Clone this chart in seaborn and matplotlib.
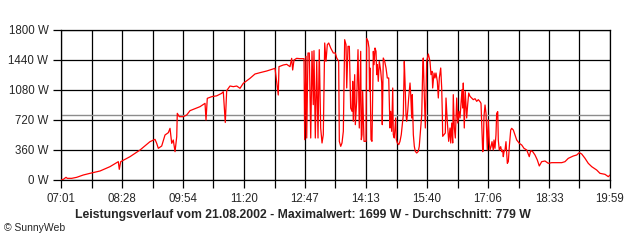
import matplotlib
matplotlib.use("Agg")
import matplotlib.pyplot as plt
import seaborn as sns
import numpy as np
import pandas as pd

# minutes after 07:01
minutes = [0, 3.3, 7.1, 8.9, 15.2, 22.2, 31.6, 41.1, 55.3, 69.4, 81.2, 82.6, 84.6, 97.8, 112.0,
           126.1, 133.2, 135.6, 137.9, 142.7, 147.4, 152.1, 154.5, 156.9, 159.1, 161.6, 164.0,
           164.8, 167.6, 173.3, 178.1, 182.8, 197.0, 204.1, 205.5, 207.3, 213.6, 220.6, 227.7,
           230.0, 232.8, 234.8, 239.5, 244.2, 249.0, 253.7, 258.3, 267.8, 274.9, 282.0, 291.5,
           303.3, 307.9, 308.9, 315.0, 319.8, 324.5, 326.9, 328.3, 330.2, 334.0, 338.7, 344.4,
           345.3, 347.2, 348.2, 350.0, 351.9, 353.9, 355.7, 357.5, 358.5, 360.4, 362.4, 364.2,
           366.0, 368.0, 369.9, 371.7, 373.7, 375.5, 377.4, 379.4, 382.2, 385.9, 388.7, 390.7,
           393.5, 394.4, 396.4, 398.2, 400.1, 402.0, 403.9, 404.9, 406.7, 408.6, 410.5, 412.4,
           413.4, 414.2, 416.2, 417.1, 419.0, 420.9, 422.7, 424.7, 425.6, 426.6, 427.5, 429.4,
           432.2, 433.2, 435.1, 436.5, 437.2, 437.9, 439.3, 440.7, 442.6, 443.6, 445.0, 446.4,
           447.4, 448.2, 449.6, 451.1, 453.1, 454.5, 455.3, 456.7, 458.7, 460.6, 462.4, 464.4,
           465.2, 466.2, 467.2, 468.6, 470.1, 470.9, 472.3, 474.3, 475.2, 476.6, 478.6, 480.4,
           482.2, 483.7, 485.1, 486.5, 487.5, 488.9, 489.9, 491.3, 492.7, 494.6, 495.6, 497.0,
           497.8, 499.3, 500.7, 502.1, 504.1, 506.3, 507.7, 511.2, 512.6, 513.4, 514.8, 516.3,
           518.2, 520.5, 522.9, 524.3, 525.8, 526.7, 528.6, 530.0, 531.4, 533.3, 534.7, 536.1,
           538.1, 539.5, 540.4, 540.9, 542.8, 544.6, 545.6, 547.4, 549.4, 551.3, 552.3, 553.7,
           555.1, 555.9, 557.4, 558.8, 560.8, 562.2, 564.0, 565.4, 566.8, 568.3, 569.2, 570.1,
           571.5, 572.9, 574.9, 576.3, 577.8, 579.6, 582.0, 584.3, 586.7, 589.1, 591.4, 593.8,
           595.2, 596.2, 597.6, 598.4, 599.4, 600.9, 602.3, 603.3, 604.1, 605.5, 607.0, 607.9,
           609.4, 610.8, 612.6, 613.6, 615.0, 616.4, 617.4, 618.9, 619.7, 621.1, 623.1, 624.5,
           625.9, 626.8, 627.8, 629.2, 630.6, 632.5, 633.9, 635.3, 637.3, 638.7, 641.0, 643.4,
           645.8, 649.5, 652.9, 656.1, 660.0, 663.6, 665.6, 668.5, 671.7, 675.0, 677.8, 681.2,
           685.9, 690.6, 695.4, 702.5, 709.6, 714.2, 718.9, 726.0, 730.8, 734.5, 737.9, 742.6,
           747.2, 752.1, 759.1, 763.8, 770.9, 775.6, 778.0]

watts = [0, 8, 32, 20, 20, 32, 60, 80, 108, 160, 220, 128, 220, 280, 360,
         460, 488, 440, 380, 408, 540, 568, 620, 440, 480, 340, 520,
         800, 760, 760, 780, 832, 880, 920, 720, 980, 1000, 1010, 1040,
         1060, 690, 1072, 1128, 1120, 1128, 1100, 1160, 1220, 1272, 1288, 1308,
         1340, 1020, 1360, 1380, 1388, 1360, 1460, 1320, 1440, 1460, 1456, 1456,
         484, 1484, 504, 1524, 1524, 504, 1544, 904, 1552, 504, 1424, 504,
         1564, 624, 444, 544, 1644, 1424, 1624, 1644, 1584, 1524, 1524, 1464,
         1424, 464, 404, 444, 584, 1684, 1624, 1104, 1604, 1604, 864, 824,
         1184, 704, 1264, 664, 944, 1564, 624, 1544, 484, 544, 1064, 464,
         464, 1699, 1664, 1584, 1064, 1344, 484, 464, 1544, 1384, 1584, 1544,
         1264, 1384, 1184, 1424, 1304, 1164, 664, 1464, 1424, 1344, 1224, 1224,
         944, 624, 824, 584, 1104, 544, 504, 744, 484, 444, 424, 464,
         544, 664, 784, 1424, 1184, 784, 704, 824, 984, 1164, 1024, 744,
         1024, 544, 404, 344, 324, 344, 404, 784, 1344, 1464, 1024, 624,
         1424, 1512, 1424, 1264, 1304, 1104, 1284, 1224, 1284, 1184, 984, 1224,
         1344, 1104, 784, 524, 544, 564, 984, 704, 464, 624, 444, 684,
         444, 1024, 624, 504, 984, 684, 824, 744, 904, 1084, 864, 1164,
         624, 1064, 744, 904, 1044, 1004, 984, 964, 976, 944, 964, 940,
         920, 680, 340, 360, 760, 900, 800, 560, 360, 720, 440, 360,
         400, 460, 360, 480, 380, 540, 800, 820, 480, 360, 400, 340,
         360, 280, 340, 360, 460, 200, 220, 400, 600, 620, 600, 540,
         480, 440, 420, 380, 360, 280, 352, 340, 300, 240, 168, 220,
         228, 200, 208, 208, 208, 220, 260, 288, 300, 328, 312, 260,
         200, 160, 120, 80, 68, 40, 60]

x_tick_labels = ["07:01", "08:28", "09:54", "11:20", "12:47",
                 "14:13", "15:40", "17:06", "18:33", "19:59"]
y_ticks = [0, 360, 720, 1080, 1440, 1800]
y_tick_labels = ["0 W", "360 W", "720 W", "1080 W", "1440 W", "1800 W"]
average = 779
title = "Leistungsverlauf vom 21.08.2002 - Maximalwert: 1699 W - Durchschnitt: 779 W"
credit = "© SunnyWeb"

sns.set_style("white")
plt.rcParams["font.family"] = ["Liberation Sans", "DejaVu Sans"]

df = pd.DataFrame({"minute": minutes, "watt": watts})
span = 778

fig = plt.figure(figsize=(6.4, 2.4), dpi=100)
ax = fig.add_axes([61 / 640, 60 / 240, 549 / 640, 150 / 240])

ax.set_xlim(0, span)
ax.set_ylim(0, 1800)

major = np.linspace(0, span, len(x_tick_labels))
minor = np.linspace(0, span, 2 * len(x_tick_labels) - 1)
ax.set_xticks(minor, minor=True)
ax.set_xticks(major)
ax.set_xticklabels(x_tick_labels, fontsize=8.3)
ax.set_yticks(y_ticks)
ax.set_yticklabels(y_tick_labels, fontsize=8.3)
ax.tick_params(axis="both", which="both", direction="out", length=6, width=0.9,
               color="black", pad=3, bottom=True, left=True)

for xv in minor:
    ax.axvline(xv, color="black", lw=0.9, zorder=1)
for yv in y_ticks:
    ax.axhline(yv, color="black", lw=0.9, zorder=1)
ax.axhline(average, color="#8c8c8c", lw=1.0, zorder=1.5)

sns.lineplot(data=df, x="minute", y="watt", ax=ax, color="#ff0000", lw=0.9,
             zorder=3, estimator=None, sort=False)

for s in ax.spines.values():
    s.set_color("black")
    s.set_linewidth(0.9)

ax.set_xlabel("")
ax.set_ylabel("")

fig.text(303 / 640, 1 - 215 / 240, title, ha="center", va="center",
         fontsize=8.8, fontweight="bold")
fig.text(4 / 640, 1 - 228 / 240, credit, ha="left", va="center", fontsize=7.5)

fig.savefig("out.png", dpi=100, facecolor="white")
